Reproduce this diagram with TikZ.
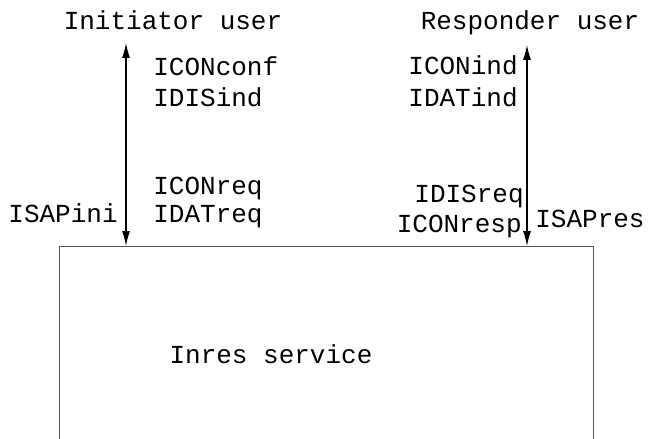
\documentclass[tikz,border=0pt]{standalone}
\usepackage{fontspec}
\setmonofont{Liberation Mono}
\usetikzlibrary{arrows.meta,positioning}
\definecolor{ink}{HTML}{000000}
\definecolor{frame}{HTML}{555555}
\tikzset{
  lbl/.style={inner sep=0pt,text=ink},
  sap/.style={<->,line width=0.6pt,draw=ink}
}

\begin{document}
\begin{tikzpicture}[x=0.02cm,y=-0.02cm,>={Latex[length=0.3cm,width=0.16cm]},font=\ttfamily\fontsize{14.8}{18}\selectfont]
\useasboundingbox (0,0) rectangle (650,439);
% service box, its bottom runs off the page
\node[draw=frame,line width=0.6pt,minimum width=10.68cm,minimum height=6cm,anchor=north west,inner sep=0pt] (svc) at (59,246) {};
\node[lbl,anchor=base] (svcname) at (271,363) {Inres service};
% users
\node[lbl,anchor=base] (ini) at (173,30) {Initiator user};
\node[lbl,anchor=base] (res) at (530,30) {Responder user};
% access points
\coordinate (initop) at (126,43);
\coordinate (restop) at (527,45);
\draw[sap] (initop) -- (initop |- svc.north);
\draw[sap] (restop) -- (restop |- svc.north);
\node[lbl,anchor=base east] (isapini) at (118,223) {ISAPini};
\node[lbl,anchor=base west] (isapres) at (535,228) {ISAPres};
% primitives at the initiator side
\node[lbl,anchor=base west] (iconconf) at (153,76) {ICONconf};
\node[lbl,anchor=base west] (idisind) at (153,107) {IDISind};
\node[lbl,anchor=base west] (iconreq) at (153,195) {ICONreq};
\node[lbl,anchor=base west] (idatreq) at (153,223) {IDATreq};
% primitives at the responder side
\node[lbl,anchor=base east] (iconind) at (518,75) {ICONind};
\node[lbl,anchor=base east] (idatind) at (518,107) {IDATind};
\node[lbl,anchor=base east] (idisreq) at (524,203) {IDISreq};
\node[lbl,anchor=base east] (iconresp) at (522,233) {ICONresp};
\end{tikzpicture}
\end{document}
